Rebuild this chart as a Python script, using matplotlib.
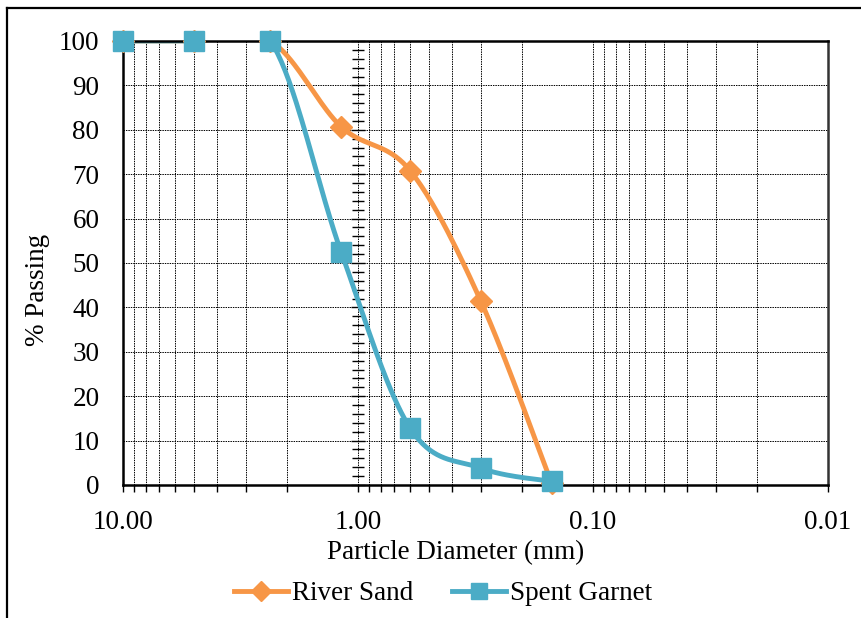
import numpy as np
import matplotlib
matplotlib.use("Agg")
import matplotlib.pyplot as plt
from matplotlib.ticker import MultipleLocator, LogLocator, FixedLocator, NullFormatter
from matplotlib.lines import Line2D

plt.rcParams['font.family'] = ['Liberation Serif', 'DejaVu Serif']

# sieve sizes (mm) and % passing
sieve = [10, 5, 2.36, 1.18, 0.6, 0.3, 0.15]
river_sand = [100, 100, 100, 80.7, 70.8, 41.4, 0.4]
spent_garnet = [100, 100, 100, 52.5, 12.8, 3.8, 0.8]
series_names = ["River Sand", "Spent Garnet"]
x_ticks = [10, 1, 0.1, 0.01]

orange = '#F79646'
teal = '#4BACC6'
fs = 19.5


def smooth(xs, ys, n=40):
    # Excel-style smoothed line (Catmull-Rom bezier) in log-x space
    px = np.log10(np.asarray(xs, float))
    py = np.asarray(ys, float)
    ox, oy = [], []
    m = len(px)
    for i in range(m - 1):
        i0 = max(i - 1, 0)
        i3 = min(i + 2, m - 1)
        p0 = np.array([px[i0], py[i0]])
        p1 = np.array([px[i], py[i]])
        p2 = np.array([px[i + 1], py[i + 1]])
        p3 = np.array([px[i3], py[i3]])
        c1 = p1 + (p2 - p0) / 6
        c2 = p2 - (p3 - p1) / 6
        t = np.linspace(0, 1, n)[:, None]
        b = ((1 - t) ** 3) * p1 + 3 * ((1 - t) ** 2) * t * c1 + 3 * (1 - t) * t ** 2 * c2 + t ** 3 * p2
        ox.extend(b[:, 0]); oy.extend(b[:, 1])
    return 10 ** np.array(ox), np.array(oy)


fig = plt.figure(figsize=(8.62, 6.18), dpi=100)
ax = fig.add_axes([123 / 862, 1 - 485 / 618, (828 - 123) / 862, (485 - 41) / 618])

ax.set_xscale('log')
ax.set_xlim(10, 0.01)
ax.set_ylim(0, 100)

# lines are clipped to the plot area, markers are not
sx, sy = smooth(sieve, river_sand)
ax.plot(sx, sy, color=orange, lw=3.5, zorder=3, solid_capstyle='round')
ax.plot(sieve, river_sand, ls='none', marker='D', ms=11, color=orange, clip_on=False, zorder=6)
gx, gy = smooth(sieve, spent_garnet)
ax.plot(gx, gy, color=teal, lw=3.5, zorder=4, solid_capstyle='round')
ax.plot(sieve, spent_garnet, ls='none', marker='s', ms=14.5, color=teal, clip_on=False, zorder=7)

ax.xaxis.set_major_locator(FixedLocator(x_ticks))
ax.set_xticklabels(['%.2f' % v for v in x_ticks])
ax.xaxis.set_minor_locator(LogLocator(base=10, subs=np.arange(2, 10)))
ax.xaxis.set_minor_formatter(NullFormatter())
ax.yaxis.set_major_locator(MultipleLocator(10))

ax.tick_params(axis='x', which='both', direction='out', length=5, width=1, labelsize=fs, pad=13)
ax.tick_params(axis='y', which='both', length=0, labelsize=fs, pad=17)

grid_kw = dict(color='black', lw=0.7, linestyle=(0, (1.5, 1)))
ax.grid(True, axis='x', which='both', **grid_kw)
ax.grid(True, axis='y', which='major', **grid_kw)
ax.set_axisbelow(True)

for s in ax.spines.values():
    s.set_linewidth(1.8)
    s.set_color('black')
    s.set_zorder(5)
ax.spines['right'].set_color('#333333')

# vertical axis crossing at 1.00 mm
sec = ax.secondary_yaxis(1 / 3)
sec.yaxis.set_major_locator(MultipleLocator(10))
sec.yaxis.set_minor_locator(MultipleLocator(2))
sec.tick_params(which='major', direction='inout', length=10, width=1, labelleft=False, labelright=False)
sec.tick_params(which='minor', direction='inout', length=8, width=1)
for s in sec.spines.values():
    s.set_visible(False)

fig.text(456 / 862, 1 - 553 / 618, 'Particle Diameter (mm)', ha='center', va='center', fontsize=fs)
fig.text(38 / 862, 1 - 290 / 618, '% Passing', ha='center', va='center', rotation=90, fontsize=fs)

handles = [Line2D([], [], color=orange, lw=3.5, marker='D', ms=10),
           Line2D([], [], color=teal, lw=3.5, marker='s', ms=12)]
fig.legend(handles, series_names, loc='center', bbox_to_anchor=(443 / 862, 1 - 594 / 618),
           ncol=2, frameon=False, fontsize=fs, handlelength=2.0, handletextpad=0.15,
           columnspacing=1.4, numpoints=1)

# outer chart frame (cropped on right and bottom)
fig.add_artist(Line2D([7 / 862, 7 / 862], [0, 1 - 8 / 618], color='black', lw=1.6,
                      transform=fig.transFigure))
fig.add_artist(Line2D([7 / 862, 1], [1 - 8 / 618, 1 - 8 / 618], color='black', lw=1.6,
                      transform=fig.transFigure))

fig.savefig('out.png', dpi=100)
